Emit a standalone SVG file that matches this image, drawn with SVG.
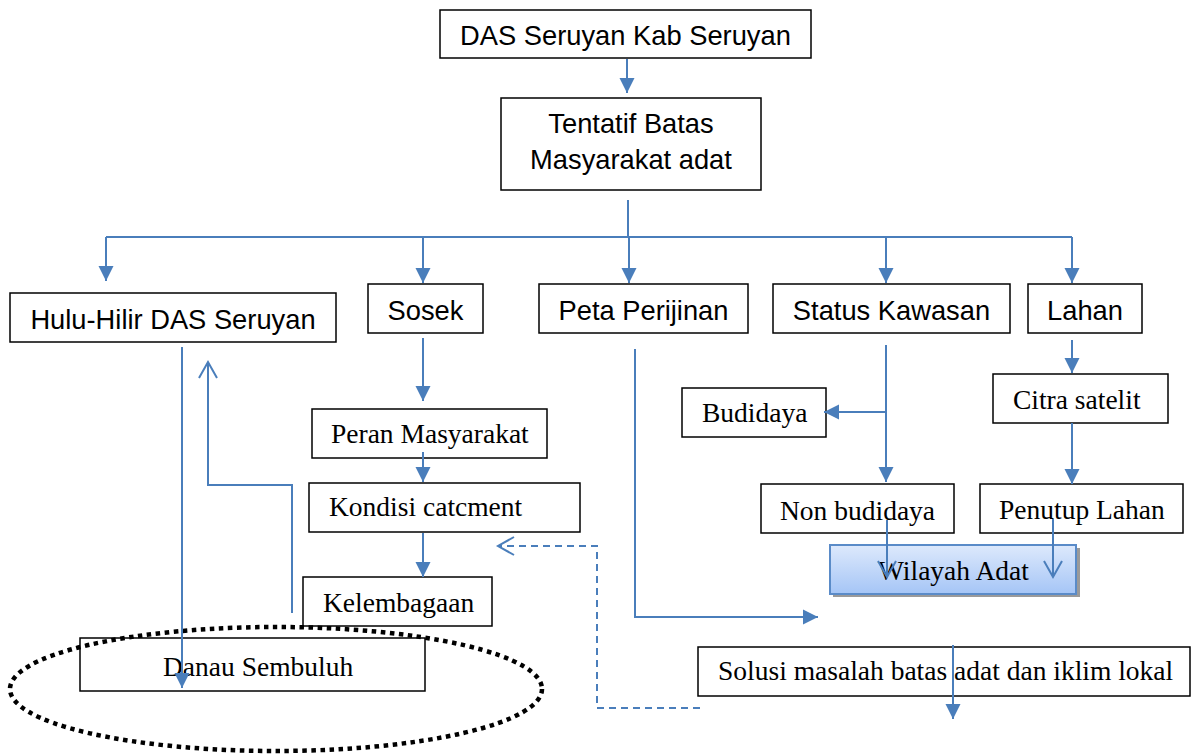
<svg xmlns="http://www.w3.org/2000/svg" width="1191" height="755" viewBox="0 0 1191 755">
<style>
.box{fill:#fff;stroke:#000;stroke-width:1.5}
.sans{font-family:"Liberation Sans",Arial,sans-serif;font-size:27.3px;fill:#000}
.serif{font-family:"Liberation Serif","Times New Roman",serif;font-size:27.5px;fill:#000}
.c{text-anchor:middle}
.ln{fill:none;stroke:#4a7ebb;stroke-width:2}
.f{marker-end:url(#tri)}
.o{marker-end:url(#open)}
</style>
<defs>
<marker id="tri" markerUnits="userSpaceOnUse" markerWidth="16" markerHeight="16" refX="15" refY="7.5" orient="auto" overflow="visible">
<path d="M0,0 L15,7.5 L0,15 z" fill="#4a7ebb"/>
</marker>
<marker id="open" markerUnits="userSpaceOnUse" markerWidth="20" markerHeight="20" refX="16" refY="9" orient="auto" overflow="visible">
<path d="M0,0 L16,9 L0,18" fill="none" stroke="#4a7ebb" stroke-width="2"/>
</marker>
<linearGradient id="wg" x1="0" y1="0" x2="0" y2="1">
<stop offset="0" stop-color="#dde9fc"/>
<stop offset="1" stop-color="#a5c5f6"/>
</linearGradient>
</defs>

<g id="node-das"><rect class="box" x="440" y="10" width="371" height="48"/><text class="sans c" x="625.5" y="45">DAS Seruyan Kab Seruyan</text></g>
<g id="node-tentatif"><rect class="box" x="501" y="98" width="260" height="92"/><text class="sans c" x="631" y="133">Tentatif Batas</text><text class="sans c" x="631" y="169">Masyarakat adat</text></g>
<g id="node-hulu"><rect class="box" x="10" y="293" width="326" height="49"/><text class="sans c" x="173" y="329">Hulu-Hilir DAS Seruyan</text></g>
<g id="node-sosek"><rect class="box" x="368" y="284" width="115" height="49"/><text class="sans c" x="425.5" y="320">Sosek</text></g>
<g id="node-peta"><rect class="box" x="539" y="284" width="209" height="49"/><text class="sans c" x="643.5" y="320">Peta Perijinan</text></g>
<g id="node-status"><rect class="box" x="773" y="284" width="237" height="49"/><text class="sans c" x="891.5" y="320">Status Kawasan</text></g>
<g id="node-lahan"><rect class="box" x="1028" y="284" width="114" height="49"/><text class="sans c" x="1085" y="320">Lahan</text></g>

<g id="node-peran"><rect class="box" x="312" y="409" width="235" height="49"/><text class="serif" x="331" y="443">Peran Masyarakat</text></g>
<g id="node-kondisi"><rect class="box" x="309" y="483" width="271" height="49"/><text class="serif" x="329" y="516">Kondisi catcment</text></g>
<g id="node-kelembagaan"><rect class="box" x="303" y="577" width="189" height="49"/><text class="serif" x="323" y="612">Kelembagaan</text></g>
<g id="node-danau"><rect class="box" x="80" y="638" width="345" height="53"/><text class="serif" x="163" y="676">Danau Sembuluh</text></g>
<g id="node-budidaya"><rect class="box" x="682" y="388" width="144" height="49"/><text class="serif" x="702" y="422">Budidaya</text></g>
<g id="node-nonbudidaya"><rect class="box" x="761" y="484" width="193" height="49"/><text class="serif" x="780" y="520">Non budidaya</text></g>
<g id="node-citra"><rect class="box" x="993" y="374" width="175" height="49"/><text class="serif" x="1013" y="409">Citra satelit</text></g>
<g id="node-penutup"><rect class="box" x="980" y="484" width="203" height="49"/><text class="serif" x="999" y="519">Penutup Lahan</text></g>
<g id="node-wilayah"><rect x="833" y="548" width="247" height="49" fill="#9a9a9a"/><rect x="830" y="545" width="246" height="49" fill="url(#wg)" stroke="#5a8bc8" stroke-width="2"/><text class="serif" x="878" y="580">Wilayah Adat</text></g>
<g id="node-solusi"><rect class="box" x="698" y="647" width="492" height="49"/><text class="serif" x="718" y="680">Solusi masalah batas adat dan iklim lokal</text></g>
<g id="node-ellipse"><ellipse cx="276" cy="689" rx="266" ry="62" fill="none" stroke="#000" stroke-width="4.5" stroke-dasharray="4.5 4.5"/></g>

<g id="connectors">
<path class="ln f" d="M627,59 V93"/>
<path class="ln" d="M628,200 V237"/>
<path class="ln" d="M106,237 H1072"/>
<path class="ln f" d="M106,237 V281"/>
<path class="ln f" d="M423,237 V283"/>
<path class="ln f" d="M629,237 V283"/>
<path class="ln f" d="M886,237 V283"/>
<path class="ln f" d="M1072,237 V283"/>
<path class="ln f" d="M423,338 V401"/>
<path class="ln f" d="M423,452 V482"/>
<path class="ln f" d="M423,533 V577"/>
<path class="ln f" d="M182,347 V688"/>
<path class="ln o" d="M292,613 V485 H208 V362"/>
<path class="ln f" d="M635,349 V617 H818"/>
<path class="ln f" d="M886,345 V482"/>
<path class="ln f" d="M886,412 H824"/>
<path class="ln o" d="M887,520 V577"/>
<path class="ln f" d="M1072,340 V373"/>
<path class="ln f" d="M1072,423 V484"/>
<path class="ln o" d="M1053,519 V577"/>
<path class="ln f" d="M953,645 V719"/>
<path class="ln o" d="M700,708 H597 V546 H498" stroke-dasharray="7 5"/>
</g>
</svg>
